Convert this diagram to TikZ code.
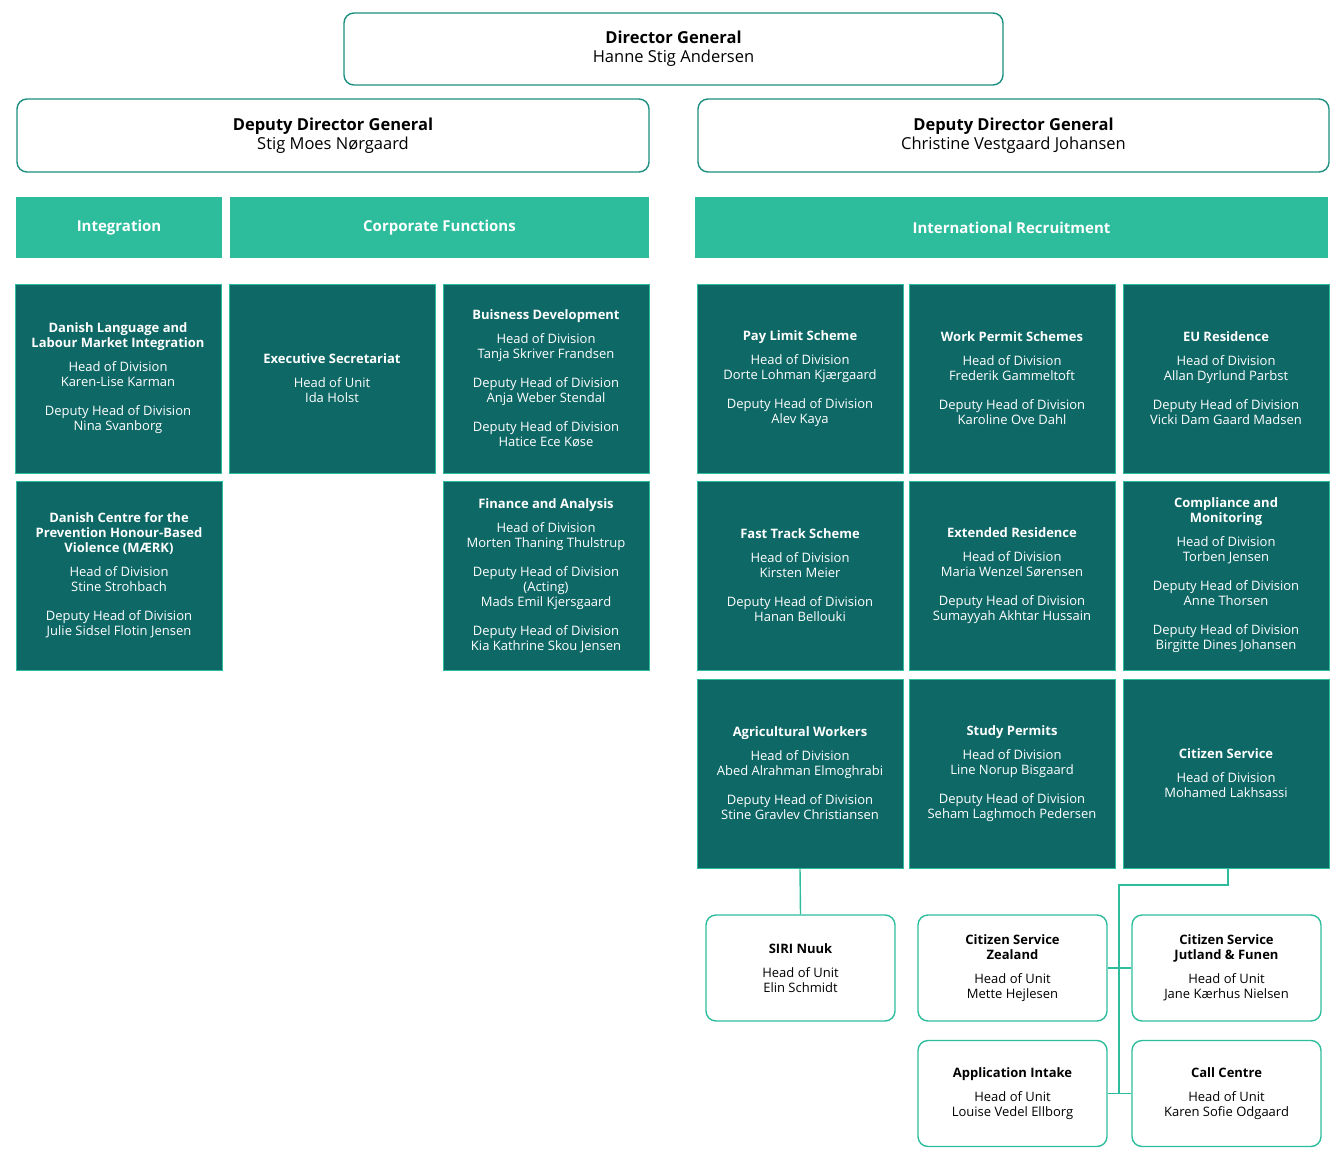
\documentclass[tikz,border=0pt]{standalone}
\usepackage{fontspec}
\setmainfont{Open Sans}
\usetikzlibrary{positioning}
\definecolor{darkteal}{HTML}{0E6866}
\definecolor{lightteal}{HTML}{2DBD9D}
\definecolor{edgeteal}{HTML}{1D8F80}
\begin{document}
\begin{tikzpicture}[x=1pt,y=-1pt,
    txt/.style={font=\fontsize{13}{15}\selectfont, align=center, inner sep=0pt},
    dg/.style={txt, draw=edgeteal, line width=1.4pt, rounded corners=10pt, fill=white, font=\fontsize{16.5}{19}\selectfont},
    band/.style={txt, fill=lightteal, text=white, font=\bfseries\fontsize{15}{18}\selectfont, minimum height=61pt},
    unitbox/.style={txt, fill=darkteal, draw=lightteal, line width=1pt, text=white, minimum width=206pt, minimum height=189pt},
    subbox/.style={txt, draw=lightteal, line width=1.4pt, rounded corners=10pt, fill=white, minimum width=189pt, minimum height=106pt},
    link/.style={draw=lightteal, line width=1.4pt}]
  \useasboundingbox (0,0) rectangle (1344,1161);

  % top levels
  \node[dg, minimum width=659pt, minimum height=72pt] (director) at (673.5,49) {\textbf{Director General}\\Hanne Stig Andersen};
  \node[dg, minimum width=632pt, minimum height=73pt] (deputyL) at (333,135.5) {\textbf{Deputy Director General}\\Stig Moes Nørgaard};
  \node[dg, minimum width=631pt, minimum height=73pt] (deputyR) at (1013.5,135.5) {\textbf{Deputy Director General}\\Christine Vestgaard Johansen};

  % areas
  \node[band, minimum width=206pt] (integration) at (119,227.5) {Integration};
  \node[band, minimum width=419pt] (corporate) at (439.5,227.5) {Corporate Functions};
  \node[band, minimum width=633pt] (recruitment) at (1011.5,227.5) {International Recruitment};

  % first row
  \node[unitbox] (danish) at (118,378.5) {\textbf{Danish Language and}\\\textbf{Labour Market Integration}\\[9pt]Head of Division\\Karen-Lise Karman\\[14pt]Deputy Head of Division\\Nina Svanborg};
  \node[unitbox] (secretariat) at (332,378.5) {\textbf{Executive Secretariat}\\[9pt]Head of Unit\\Ida Holst};
  \node[unitbox] (business) at (546,378.5) {\textbf{Buisness Development}\\[9pt]Head of Division\\Tanja Skriver Frandsen\\[14pt]Deputy Head of Division\\Anja Weber Stendal\\[14pt]Deputy Head of Division\\Hatice Ece Køse};
  \node[unitbox] (paylimit) at (800,378.5) {\textbf{Pay Limit Scheme}\\[9pt]Head of Division\\Dorte Lohman Kjærgaard\\[14pt]Deputy Head of Division\\Alev Kaya};
  \node[unitbox] (workpermit) at (1012,378.5) {\textbf{Work Permit Schemes}\\[9pt]Head of Division\\Frederik Gammeltoft\\[14pt]Deputy Head of Division\\Karoline Ove Dahl};
  \node[unitbox] (euresidence) at (1226,378.5) {\textbf{EU Residence}\\[9pt]Head of Division\\Allan Dyrlund Parbst\\[14pt]Deputy Head of Division\\Vicki Dam Gaard Madsen};

  % second row
  \node[unitbox] (maerk) at (119,575.5) {\textbf{Danish Centre for the}\\\textbf{Prevention Honour-Based}\\\textbf{Violence (MÆRK)}\\[9pt]Head of Division\\Stine Strohbach\\[14pt]Deputy Head of Division\\Julie Sidsel Flotin Jensen};
  \node[unitbox] (finance) at (546,575.5) {\textbf{Finance and Analysis}\\[9pt]Head of Division\\Morten Thaning Thulstrup\\[14pt]Deputy Head of Division\\(Acting)\\Mads Emil Kjersgaard\\[14pt]Deputy Head of Division\\Kia Kathrine Skou Jensen};
  \node[unitbox] (fasttrack) at (800,575.5) {\textbf{Fast Track Scheme}\\[9pt]Head of Division\\Kirsten Meier\\[14pt]Deputy Head of Division\\Hanan Bellouki};
  \node[unitbox] (extended) at (1012,575.5) {\textbf{Extended Residence}\\[9pt]Head of Division\\Maria Wenzel Sørensen\\[14pt]Deputy Head of Division\\Sumayyah Akhtar Hussain};
  \node[unitbox] (compliance) at (1226,575.5) {\textbf{Compliance and}\\\textbf{Monitoring}\\[9pt]Head of Division\\Torben Jensen\\[14pt]Deputy Head of Division\\Anne Thorsen\\[14pt]Deputy Head of Division\\Birgitte Dines Johansen};

  % third row
  \node[unitbox] (agricultural) at (800,773.5) {\textbf{Agricultural Workers}\\[9pt]Head of Division\\Abed Alrahman Elmoghrabi\\[14pt]Deputy Head of Division\\Stine Gravlev Christiansen};
  \node[unitbox] (study) at (1012,773.5) {\textbf{Study Permits}\\[9pt]Head of Division\\Line Norup Bisgaard\\[14pt]Deputy Head of Division\\Seham Laghmoch Pedersen};
  \node[unitbox] (citizen) at (1226,773.5) {\textbf{Citizen Service}\\[9pt]Head of Division\\Mohamed Lakhsassi};

  % units
  \node[subbox] (nuuk) at (800.5,968) {\textbf{SIRI Nuuk}\\[9pt]Head of Unit\\Elin Schmidt};
  \node[subbox] (zealand) at (1012.5,968) {\textbf{Citizen Service}\\\textbf{Zealand}\\[9pt]Head of Unit\\Mette Hejlesen};
  \node[subbox] (jutland) at (1226.5,968) {\textbf{Citizen Service}\\\textbf{Jutland \& Funen}\\[9pt]Head of Unit\\Jane Kærhus Nielsen};
  \node[subbox] (intake) at (1012.5,1093.5) {\textbf{Application Intake}\\[9pt]Head of Unit\\Louise Vedel Ellborg};
  \node[subbox] (callcentre) at (1226.5,1093.5) {\textbf{Call Centre}\\[9pt]Head of Unit\\Karen Sofie Odgaard};

  % connectors
  \coordinate (bend) at (1228,885);
  \coordinate (spine) at (1119,885);
  \draw[link] (agricultural.south) -- (nuuk.north);
  \draw[link] (citizen.south -| bend) -- (bend) -- (spine) -- (spine |- intake.east);
  \draw[link] (zealand.east) -- (jutland.west);
  \draw[link] (intake.east) -- (callcentre.west);
\end{tikzpicture}
\end{document}
